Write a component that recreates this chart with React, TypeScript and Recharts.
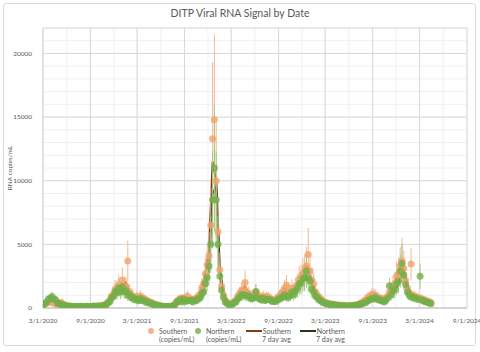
import {
  ComposedChart,
  Scatter,
  Line,
  XAxis,
  YAxis,
  CartesianGrid,
  ErrorBar,
} from "recharts";

const DAY = 86400000;
const START = Date.UTC(2020, 2, 1);
const END = Date.UTC(2024, 8, 1);

const tickLabels = [
  "3/1/2020", "9/1/2020", "3/1/2021", "9/1/2021", "3/1/2022",
  "9/1/2022", "3/1/2023", "9/1/2023", "3/1/2024", "9/1/2024",
];
const yTicks = [0, 5000, 10000, 15000, 20000];

// weekly samples starting 3/1/2020 (copies/mL)
const southern = [
  150, 320, 380, 480, 470, 480, 380, 370, 230, 320, 450, 330,
  220, 140, 130, 90, 120, 80, 110, 90, 100, 100, 110, 80,
  110, 90, 100, 100, 130, 100, 140, 130, 160, 160, 240, 280,
  480, 620, 950, 1050, 1500, 1500, 1800, 1400, 2200, 1700, 1700, 3700,
  1300, 950, 950, 750, 900, 700, 950, 760, 740, 620, 580, 470,
  450, 330, 320, 230, 210, 160, 160, 120, 130, 100, 130, 130,
  200, 280, 530, 620, 740, 760, 740, 620, 950, 680, 700, 660,
  700, 720, 950, 1050, 1600, 1900, 2700, 3400, 4100, 6500, 13300, 14800,
  10000, 6000, 3000, 1700, 1050, 620, 480, 330, 320, 330, 530, 620,
  950, 1150, 1350, 1450, 2000, 1150, 1150, 950, 950, 1050, 1250, 950,
  950, 760, 950, 760, 900, 860, 740, 620, 640, 670, 840, 860,
  1150, 1250, 1550, 1800, 1250, 1250, 1550, 1350, 1650, 1850, 2250, 2350,
  2700, 2900, 3300, 4200, 2900, 2200, 1900, 1250, 1050, 820, 740, 520,
  500, 400, 400, 320, 330, 270, 280, 230, 230, 200, 210, 180,
  190, 160, 190, 180, 210, 210, 260, 290, 400, 430, 580, 620,
  850, 860, 1050, 1050, 1050, 860, 840, 720, 740, 620, 740, 950,
  1250, 1350, 1750, 1950, 2500, 2700, 3300, 3700, 3100, 2150, 1550, 1150,
  3450, 960, 940, 820, 830, 720, 730, 620, 630, 520, 520, 430,
];

const northern = [
  200, 400, 450, 700, 750, 900, 700, 650, 400, 350, 230, 250,
  160, 190, 130, 150, 110, 130, 100, 130, 100, 140, 90, 120,
  130, 100, 120, 110, 150, 110, 160, 130, 180, 160, 230, 240,
  420, 500, 820, 900, 1300, 1200, 1600, 1250, 1650, 1300, 1350, 1000,
  1050, 800, 800, 650, 700, 560, 750, 580, 600, 460, 480, 370,
  380, 280, 270, 200, 190, 140, 140, 110, 120, 95, 120, 110,
  170, 230, 430, 520, 650, 480, 700, 520, 560, 580, 600, 470,
  600, 560, 750, 780, 1100, 1250, 1900, 2400, 3300, 5000, 8500, 11000,
  8500, 5000, 2500, 1400, 850, 480, 380, 260, 270, 290, 430, 480,
  750, 850, 1050, 1050, 1000, 950, 950, 760, 740, 820, 1300, 780,
  740, 620, 760, 580, 690, 660, 640, 520, 540, 520, 640, 680,
  850, 870, 1050, 860, 850, 980, 1250, 1050, 1350, 1550, 1900, 1950,
  2300, 2400, 2900, 2300, 2100, 1500, 1250, 950, 850, 620, 580, 430,
  420, 330, 320, 270, 270, 230, 230, 190, 200, 170, 180, 150,
  160, 140, 170, 160, 190, 190, 240, 240, 320, 330, 420, 440,
  580, 620, 740, 720, 840, 680, 690, 580, 580, 480, 580, 780,
  1750, 1050, 1350, 1450, 1900, 2100, 2900, 3500, 2600, 1850, 1250, 1050,
  880, 870, 780, 770, 680, 2500, 620, 530, 520, 430, 420, 340,
];

// 7 day averages, read every second week
const southernAvg = [
  200, 380, 470, 400, 300, 380, 180, 115, 100, 100, 100, 95,
  100, 100, 115, 135, 160, 250, 520, 950, 1450, 1650, 1900, 2000,
  1100, 870, 820, 850, 700, 550, 400, 280, 190, 140, 115, 125,
  220, 540, 740, 750, 770, 680, 680, 950, 1650, 2800, 4500, 11500,
  10000, 3000, 1100, 480, 320, 500, 950, 1350, 1700, 1100, 950, 1150,
  880, 870, 870, 700, 620, 800, 1150, 1600, 1300, 1450, 1650, 2100,
  2700, 3300, 2600, 1700, 1000, 720, 500, 390, 320, 270, 230, 205,
  185, 180, 200, 250, 380, 550, 800, 1000, 1000, 820, 710, 700,
  1150, 1700, 2400, 3200, 3000, 1700, 1200, 920, 820, 720, 620, 520,
];

const northernAvg = [
  250, 520, 780, 750, 500, 300, 200, 150, 125, 115, 110, 105,
  115, 105, 120, 135, 160, 210, 400, 750, 1150, 1450, 1450, 1300,
  980, 780, 650, 660, 580, 480, 360, 270, 190, 140, 115, 110,
  170, 420, 570, 620, 540, 550, 570, 720, 1000, 1700, 3000, 9000,
  9500, 3000, 1000, 400, 270, 380, 650, 950, 1000, 920, 750, 950,
  800, 680, 650, 620, 530, 600, 800, 950, 870, 1100, 1250, 1650,
  2100, 2600, 2200, 1400, 900, 600, 450, 330, 280, 250, 210, 185,
  165, 155, 170, 200, 260, 370, 480, 650, 750, 700, 620, 550,
  900, 1300, 1600, 2300, 3000, 1700, 1100, 870, 780, 680, 560, 450,
];

const ERR_FRAC = 0.45;
const southernErr: Record<number, number> = { 47: 1600, 94: 6000, 95: 6700, 147: 2100, 199: 1800, 204: 1300 };
const northernErr: Record<number, number> = { 192: 600, 199: 1500, 209: 1000 };

const parseDate = (s: string) => {
  const [m, d, y] = s.split("/").map(Number);
  return Date.UTC(y, m - 1, d);
};
const tickTimes = tickLabels.map(parseDate);
const quarterLines = Array.from({ length: 19 }, (_, k) => Date.UTC(2020, 2 + 3 * k, 1));
const minorY = Array.from({ length: 23 }, (_, k) => k * 1000);

const rows = southern.map((s, i) => ({
  t: START + i * 7 * DAY,
  s,
  n: northern[i],
  sErr: southernErr[i] ?? Math.round(s * ERR_FRAC),
  nErr: northernErr[i] ?? Math.round(northern[i] * ERR_FRAC),
  sAvg: i % 2 === 0 ? southernAvg[i / 2] : null,
  nAvg: i % 2 === 0 ? northernAvg[i / 2] : null,
}));

const ORANGE = "#F2A36B";
const GREEN = "#72AF48";
const SAVG = "#843C0C";
const NAVG = "#22361A";
const TEXT = "#595959";

const dot = (color: string) => (props: any) =>
  <circle cx={props.cx} cy={props.cy} r={3.5} fill={color} fillOpacity={0.8} />;

const LegendBox = () => {
  const txt = { position: "absolute" as const, fontSize: 7, lineHeight: "8px", color: TEXT };
  return (
    <div style={{ position: "absolute", left: 0, top: 326, width: 480, height: 20 }}>
      <svg style={{ position: "absolute", left: 0, top: 0 }} width={480} height={20}>
        <circle cx={151} cy={5} r={3} fill={ORANGE} fillOpacity={0.8} />
        <circle cx={198} cy={5} r={3} fill={GREEN} fillOpacity={0.8} />
        <line x1={246} x2={262} y1={5} y2={5} stroke={SAVG} strokeWidth={2} />
        <line x1={300} x2={316} y1={5} y2={5} stroke={NAVG} strokeWidth={2} />
      </svg>
      <div style={{ ...txt, left: 159, top: 1 }}>Southern<br />(copies/mL)</div>
      <div style={{ ...txt, left: 206, top: 1 }}>Northern<br />(copies/mL)</div>
      <div style={{ ...txt, left: 262, top: 1, textAlign: "right" }}>Southern<br />7 day avg</div>
      <div style={{ ...txt, left: 316, top: 1, textAlign: "right" }}>Northern<br />7 day avg</div>
    </div>
  );
};

const App = () => {
  return (
    <div style={{ position: "absolute", left: 0, top: 0, width: 480, height: 352, background: "#fff", fontFamily: "Lato, sans-serif" }}>
      <div style={{ position: "absolute", left: 3, top: 3, width: 471, height: 341, border: "1px solid #d9d9d9", borderRadius: 3 }} />
      <div style={{ position: "absolute", left: 0, top: 7, width: 480, textAlign: "center", fontSize: 10.5, color: TEXT }}>
        DITP Viral RNA Signal by Date
      </div>
      <ComposedChart
        width={480}
        height={352}
        data={rows}
        margin={{ top: 28, right: 13, left: 10, bottom: 30 }}
        style={{ position: "absolute", left: 0, top: 0 }}
      >
        <CartesianGrid stroke="#f0f0f0" horizontalValues={minorY} verticalValues={quarterLines} />
        <CartesianGrid stroke="#d9d9d9" />
        <XAxis
          type="number"
          dataKey="t"
          domain={[START, END]}
          ticks={tickTimes}
          interval={0}
          allowDataOverflow
          tickFormatter={(v: number) => tickLabels[tickTimes.indexOf(v)]}
          tick={{ fontSize: 6.5, fill: TEXT }}
          tickLine={false}
          axisLine={{ stroke: "#bfbfbf" }}
          height={14}
          tickMargin={4}
        />
        <YAxis
          type="number"
          domain={[0, 22000]}
          ticks={yTicks}
          interval={0}
          allowDataOverflow
          width={33}
          tick={{ fontSize: 6.5, fill: TEXT }}
          tickLine={false}
          axisLine={{ stroke: "#d9d9d9" }}
          tickMargin={5}
          label={{
            value: "RNA copies/mL",
            angle: -90,
            position: "insideLeft",
            offset: 0,
            style: { fontSize: 6.5, fill: TEXT, textAnchor: "middle" },
          }}
        />
        <Line dataKey="sAvg" stroke={SAVG} strokeWidth={2} dot={false} connectNulls isAnimationActive={false} />
        <Line dataKey="nAvg" stroke={NAVG} strokeWidth={2} dot={false} connectNulls isAnimationActive={false} />
        <Scatter dataKey="s" shape={dot(ORANGE)} isAnimationActive={false}>
          <ErrorBar dataKey="sErr" direction="y" width={0} stroke="#F4B890" strokeWidth={1} />
        </Scatter>
        <Scatter dataKey="n" shape={dot(GREEN)} isAnimationActive={false}>
          <ErrorBar dataKey="nErr" direction="y" width={0} stroke="#9CCB80" strokeWidth={1} />
        </Scatter>
      </ComposedChart>
      <LegendBox />
    </div>
  );
};

export default App;
